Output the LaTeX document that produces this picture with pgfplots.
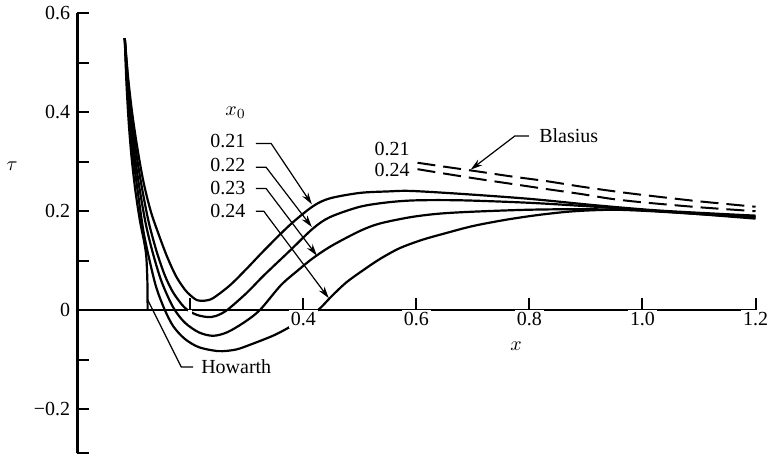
\documentclass[border=0pt]{standalone}
\usepackage{fontspec}
\setmainfont{Liberation Serif}
\usepackage{pgfplots}
\pgfplotsset{compat=1.18}
\usetikzlibrary{arrows.meta}

\pgfplotsset{
    curve/.style={black, line width=1.1pt, smooth, mark=none},
    blas/.style={black, line width=1pt, smooth, mark=none, dash pattern=on 9pt off 4pt},
}

\begin{document}
\begin{tikzpicture}
\begin{axis}[
    scale only axis,
    width=339.5pt, height=220.25pt,
    xmin=0, xmax=1.2, ymin=-0.29, ymax=0.6,
    axis x line=middle, axis y line=left,
    axis line style={-, line width=1.4pt},
    axis on top,
    xtick={0.2,0.4,0.6,0.8,1.0,1.2},
    xticklabels={,0.4,0.6,0.8,1.0,1.2},
    ytick={-0.29,-0.2,-0.1,0,0.1,0.2,0.3,0.4,0.5,0.6},
    yticklabels={,−0.2,,0,,0.2,,0.4,,0.6},
    /pgf/number format/assume math mode=true,
    tick style={line width=1pt, black},
    major tick length=6pt,
    xtick align=inside, ytick align=inside,
    xticklabel style={fill=white, inner sep=1pt},
    clip=false,
    xlabel={$x$}, ylabel={$\tau$},
    every axis x label/.style={at={(axis description cs:0.647,0.244)}, anchor=center},
    every axis y label/.style={at={(axis description cs:-0.096,0.653)}, anchor=center},
]
% x0 = 0.21
\addplot[curve] coordinates {(0.084,0.55)(0.09,0.47)(0.097,0.40)(0.106,0.33)(0.117,0.26)(0.13,0.2)(0.145,0.15)(0.16,0.105)(0.175,0.068)(0.19,0.042)(0.2,0.03)(0.212,0.02)(0.225,0.019)(0.24,0.024)(0.27,0.05)(0.3,0.084)(0.33,0.12)(0.376,0.172)(0.417,0.21)(0.447,0.226)(0.5,0.237)(0.55,0.24)(0.59,0.241)(0.68,0.235)(0.8,0.225)(0.917,0.212)(1.034,0.201)(1.2,0.191)};
% x0 = 0.22
\addplot[curve] coordinates {(0.084,0.55)(0.09,0.46)(0.096,0.39)(0.104,0.32)(0.114,0.25)(0.126,0.18)(0.14,0.12)(0.155,0.07)(0.17,0.035)(0.19,0.005)(0.21,-0.009)(0.23,-0.014)(0.245,-0.012)(0.265,0.0)(0.3,0.035)(0.33,0.07)(0.376,0.12)(0.417,0.165)(0.447,0.188)(0.5,0.209)(0.55,0.218)(0.6,0.222)(0.68,0.222)(0.8,0.217)(0.917,0.209)(1.034,0.2)(1.2,0.189)};
% x0 = 0.23
\addplot[curve] coordinates {(0.084,0.55)(0.089,0.46)(0.095,0.38)(0.102,0.31)(0.111,0.24)(0.122,0.17)(0.135,0.11)(0.15,0.055)(0.17,0.005)(0.19,-0.025)(0.215,-0.045)(0.24,-0.052)(0.265,-0.045)(0.295,-0.025)(0.323,0.0)(0.36,0.05)(0.39,0.08)(0.417,0.105)(0.45,0.13)(0.5,0.16)(0.535,0.175)(0.59,0.188)(0.64,0.195)(0.7,0.199)(0.8,0.203)(0.9,0.204)(1.0,0.201)(1.2,0.187)};
% x0 = 0.24
\addplot[curve] coordinates {(0.084,0.55)(0.088,0.46)(0.093,0.38)(0.099,0.31)(0.107,0.24)(0.117,0.16)(0.128,0.1)(0.14,0.045)(0.155,0.0)(0.17,-0.033)(0.19,-0.058)(0.215,-0.075)(0.25,-0.083)(0.28,-0.08)(0.306,-0.07)(0.346,-0.052)(0.37,-0.038)(0.4,-0.018)(0.426,0.0)(0.45,0.028)(0.476,0.056)(0.505,0.08)(0.535,0.103)(0.57,0.125)(0.61,0.142)(0.65,0.155)(0.7,0.17)(0.76,0.183)(0.82,0.193)(0.88,0.2)(0.95,0.203)(1.03,0.2)(1.2,0.185)};
% Howarth
\addplot[curve] coordinates {(0.084,0.55)(0.087,0.46)(0.091,0.38)(0.096,0.31)(0.103,0.24)(0.111,0.18)(0.118,0.14)(0.122,0.11)(0.124,0.06)(0.1245,0.0)};
% Blasius
\addplot[blas] coordinates {(0.602,0.298)(0.65,0.29)(0.711,0.28)(0.77,0.27)(0.829,0.261)(0.89,0.25)(0.945,0.241)(1.0,0.233)(1.1,0.22)(1.2,0.209)};
\addplot[blas] coordinates {(0.602,0.285)(0.65,0.276)(0.711,0.265)(0.77,0.255)(0.829,0.245)(0.89,0.235)(0.945,0.225)(1.0,0.218)(1.1,0.208)(1.2,0.2)};

% annotations
\node at (axis cs:0.28,0.40) {$x_0$};
\node[anchor=east] at (axis cs:0.31,0.343) {0.21};
\node[anchor=east] at (axis cs:0.31,0.293) {0.22};
\node[anchor=east] at (axis cs:0.31,0.246) {0.23};
\node[anchor=east] at (axis cs:0.31,0.200) {0.24};
\begin{scope}[line width=0.6pt, -{Stealth[length=6pt,width=3.5pt]}]
\draw (axis cs:0.316,0.337) -- (axis cs:0.343,0.337) -- (axis cs:0.415,0.214);
\draw (axis cs:0.316,0.289) -- (axis cs:0.334,0.289) -- (axis cs:0.415,0.168);
\draw (axis cs:0.316,0.246) -- (axis cs:0.334,0.246) -- (axis cs:0.424,0.110);
\draw (axis cs:0.316,0.200) -- (axis cs:0.330,0.200) -- (axis cs:0.445,0.024);
\draw (axis cs:0.799,0.352) -- (axis cs:0.774,0.352) -- (axis cs:0.696,0.284);
\end{scope}
\node[anchor=west] at (axis cs:0.805,0.352) {Blasius};
\node at (axis cs:0.557,0.325) {0.21};
\node at (axis cs:0.557,0.283) {0.24};
\draw[line width=0.6pt] (axis cs:0.205,-0.115) -- (axis cs:0.184,-0.115) -- (axis cs:0.124,0.022);
\node[anchor=west] at (axis cs:0.207,-0.115) {Howarth};
\end{axis}
\end{tikzpicture}
\end{document}
